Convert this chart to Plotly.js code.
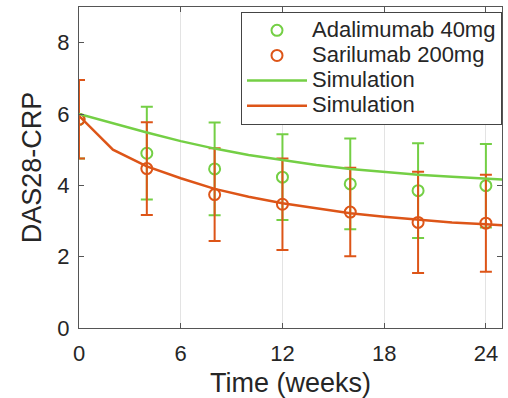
<!DOCTYPE html>
<html>
<head>
<meta charset="utf-8">
<script src="https://cdn.plot.ly/plotly-3.0.1.min.js"></script>
<style>html,body{margin:0;padding:0;background:#fff;}#chart{width:508px;height:398px;}</style>
</head>
<body>
<div id="chart"></div>
<script>
var weeks = [0, 4, 8, 12, 16, 20, 24];
var adaMean = [5.85, 4.90, 4.46, 4.23, 4.04, 3.85, 3.99];
var adaErr = [1.10, 1.30, 1.30, 1.20, 1.27, 1.33, 1.17];
var sariMean = [5.85, 4.47, 3.74, 3.47, 3.25, 2.96, 2.94];
var sariErr = [1.10, 1.30, 1.30, 1.28, 1.24, 1.42, 1.36];
var simTime = [0, 2, 4, 6, 8, 10, 12, 14, 16, 18, 20, 22, 24, 25];
var adaSim = [6.00, 5.73, 5.48, 5.24, 5.03, 4.85, 4.70, 4.57, 4.46, 4.37, 4.30, 4.24, 4.19, 4.16];
var sariSim = [5.95, 5.00, 4.53, 4.20, 3.90, 3.68, 3.50, 3.35, 3.22, 3.12, 3.03, 2.96, 2.91, 2.88];
var xTicks = [0, 6, 12, 18, 24];
var yTicks = [0, 2, 4, 6, 8];
var names = ['Adalimumab 40mg', 'Sarilumab 200mg', 'Simulation', 'Simulation'];

var green = '#74CF45';
var orange = '#DD5518';
function lg(s) { return '<span style="font-size:22px">' + s + '</span>'; }

var traces = [
  {x: weeks, y: adaMean, name: lg(names[0]), type: 'scatter', mode: 'markers',
   marker: {symbol: 'circle-open', size: 11, color: green, line: {width: 2, color: green}},
   error_y: {type: 'data', array: adaErr, visible: true, color: green, thickness: 2, width: 6}},
  {x: weeks, y: sariMean, name: lg(names[1]), type: 'scatter', mode: 'markers',
   marker: {symbol: 'circle-open', size: 11, color: orange, line: {width: 2, color: orange}},
   error_y: {type: 'data', array: sariErr, visible: true, color: orange, thickness: 2, width: 6}},
  {x: simTime, y: adaSim, name: lg(names[2]), type: 'scatter', mode: 'lines',
   line: {color: green, width: 2.5}},
  {x: simTime, y: sariSim, name: lg(names[3]), type: 'scatter', mode: 'lines',
   line: {color: orange, width: 2.5}}
];

var axisColor = '#555555';
var layout = {
  width: 508, height: 398,
  margin: {l: 79, r: 6, t: 7, b: 70},
  paper_bgcolor: '#ffffff', plot_bgcolor: '#ffffff',
  font: {family: 'Liberation Sans, Arial, sans-serif', color: '#262626'},
  showlegend: true,
  legend: {x: 1, xanchor: 'right', y: 0.985, yanchor: 'top',
    bgcolor: '#ffffff', bordercolor: '#444444', borderwidth: 1,
    font: {size: 17, color: '#262626'}, tracegroupgap: 0, itemwidth: 60},
  xaxis: {range: [0, 24.95], tickvals: xTicks, ticktext: xTicks.map(String),
    showgrid: true, gridcolor: '#e3e3e3', gridwidth: 1, zeroline: false,
    showline: true, linecolor: axisColor, linewidth: 1, mirror: 'ticks',
    ticks: 'inside', ticklen: 5, tickcolor: axisColor, ticklabelstandoff: 6,
    tickfont: {size: 22, color: '#262626'},
    title: {text: 'Time (weeks)', font: {size: 27, color: '#262626'}, standoff: 8}},
  yaxis: {range: [0, 9], tickvals: yTicks, ticktext: yTicks.map(String),
    showgrid: false, zeroline: false,
    showline: true, linecolor: axisColor, linewidth: 1, mirror: 'ticks',
    ticks: 'inside', ticklen: 5, tickcolor: axisColor, ticklabelstandoff: 4,
    tickfont: {size: 22, color: '#262626'},
    title: {text: 'DAS28-CRP', font: {size: 27, color: '#262626'}, standoff: 7}}
};

Plotly.newPlot('chart', traces, layout, {displayModeBar: false, staticPlot: true});
</script>
</body>
</html>
